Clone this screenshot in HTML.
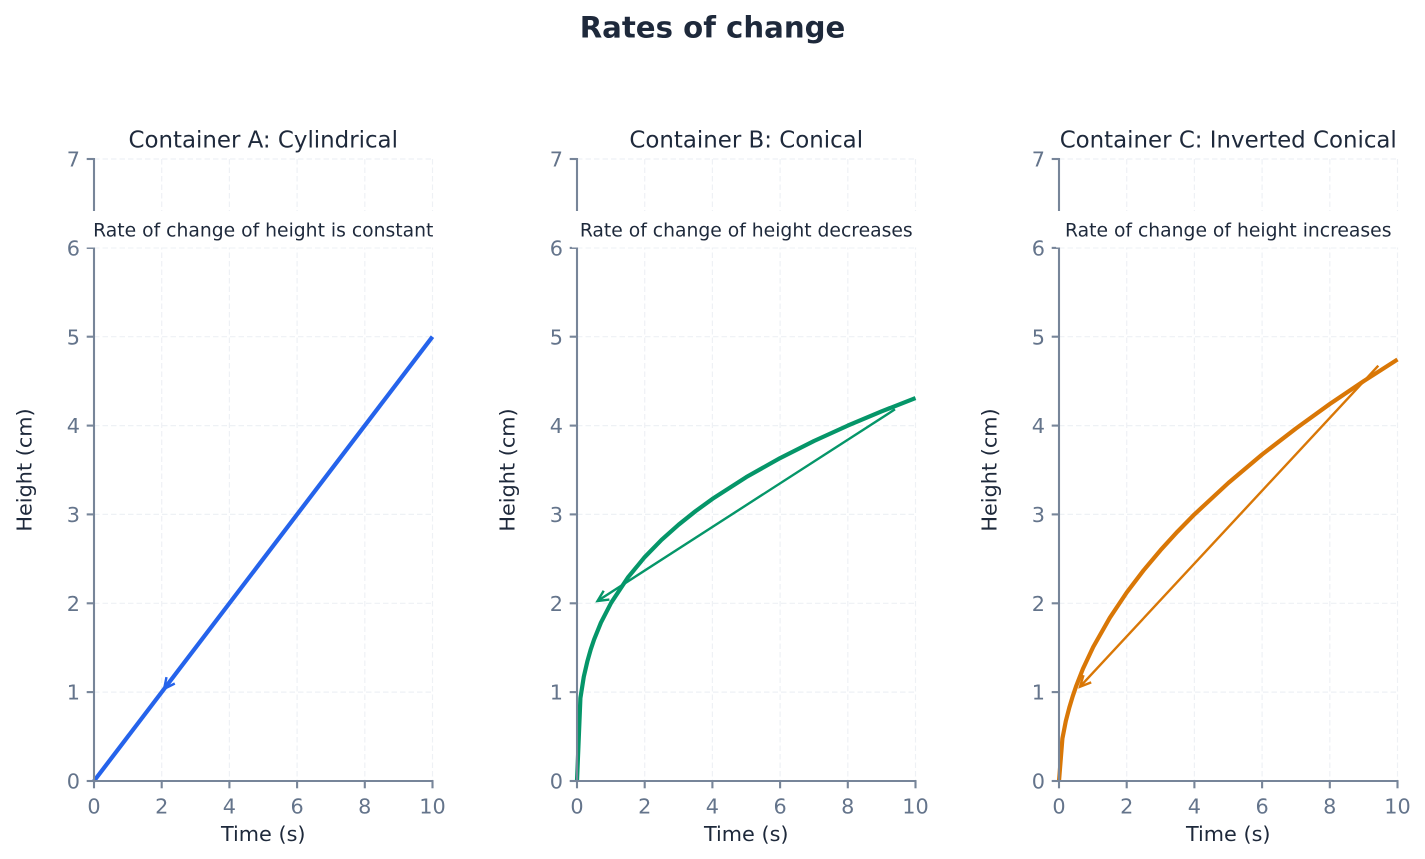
<!DOCTYPE html>
<html>
<head>
<meta charset="utf-8">
<style>
  html, body { margin: 0; padding: 0; background: #ffffff; }
  svg { display: block; }
  text { font-family: "DejaVu Sans", "Liberation Sans", sans-serif; }
  .tick { font-size: 20.8px; fill: #64748b; }
  .lab { font-size: 20.8px; fill: #1e293b; }
  .ttl { font-size: 22.9px; fill: #1e293b; }
  .ann { font-size: 18.75px; fill: #1e293b; }
  .grid line { stroke: #eef1f5; stroke-width: 1.2; stroke-dasharray: 5.5 3; }
  .ax line { stroke: #778599; stroke-width: 2.1; }
</style>
</head>
<body>
<svg width="1425" height="859" viewBox="0 0 1425 859" xmlns="http://www.w3.org/2000/svg">
  <rect x="0" y="0" width="1425" height="859" fill="#ffffff"/>

  <text x="712.5" y="37.5" text-anchor="middle" font-weight="bold" font-size="29.2" fill="#1e293b">Rates of change</text>

  <defs>
    <g id="panel">
      <g class="grid">
        <line x1="94" y1="159" x2="94" y2="781"/>
        <line x1="161.7" y1="159" x2="161.7" y2="781"/>
        <line x1="229.4" y1="159" x2="229.4" y2="781"/>
        <line x1="297.1" y1="159" x2="297.1" y2="781"/>
        <line x1="364.8" y1="159" x2="364.8" y2="781"/>
        <line x1="432.5" y1="159" x2="432.5" y2="781"/>
        <line x1="94" y1="692.1" x2="432.5" y2="692.1"/>
        <line x1="94" y1="603.3" x2="432.5" y2="603.3"/>
        <line x1="94" y1="514.4" x2="432.5" y2="514.4"/>
        <line x1="94" y1="425.6" x2="432.5" y2="425.6"/>
        <line x1="94" y1="336.7" x2="432.5" y2="336.7"/>
        <line x1="94" y1="247.9" x2="432.5" y2="247.9"/>
        <line x1="94" y1="159" x2="432.5" y2="159"/>
      </g>
    </g>
    <g id="axes">
      <g class="ax">
        <line x1="94" y1="158" x2="94" y2="782"/>
        <line x1="93" y1="781" x2="433.5" y2="781"/>
        <line x1="94" y1="781" x2="94" y2="788.3"/>
        <line x1="161.7" y1="781" x2="161.7" y2="788.3"/>
        <line x1="229.4" y1="781" x2="229.4" y2="788.3"/>
        <line x1="297.1" y1="781" x2="297.1" y2="788.3"/>
        <line x1="364.8" y1="781" x2="364.8" y2="788.3"/>
        <line x1="432.5" y1="781" x2="432.5" y2="788.3"/>
        <line x1="86.7" y1="781" x2="94" y2="781"/>
        <line x1="86.7" y1="692.1" x2="94" y2="692.1"/>
        <line x1="86.7" y1="603.3" x2="94" y2="603.3"/>
        <line x1="86.7" y1="514.4" x2="94" y2="514.4"/>
        <line x1="86.7" y1="425.6" x2="94" y2="425.6"/>
        <line x1="86.7" y1="336.7" x2="94" y2="336.7"/>
        <line x1="86.7" y1="247.9" x2="94" y2="247.9"/>
        <line x1="86.7" y1="159" x2="94" y2="159"/>
      </g>
      <g class="tick" text-anchor="middle">
        <text x="94" y="813.3">0</text>
        <text x="161.7" y="813.3">2</text>
        <text x="229.4" y="813.3">4</text>
        <text x="297.1" y="813.3">6</text>
        <text x="364.8" y="813.3">8</text>
        <text x="432.5" y="813.3">10</text>
      </g>
      <g class="tick" text-anchor="end">
        <text x="80" y="788.6">0</text>
        <text x="80" y="699.7">1</text>
        <text x="80" y="610.9">2</text>
        <text x="80" y="522.0">3</text>
        <text x="80" y="433.2">4</text>
        <text x="80" y="344.3">5</text>
        <text x="80" y="255.5">6</text>
        <text x="80" y="166.6">7</text>
      </g>
      <text class="lab" x="263.25" y="841" text-anchor="middle">Time (s)</text>
      <text class="lab" transform="translate(31.7,470) rotate(-90)" text-anchor="middle">Height (cm)</text>
    </g>
  </defs>

  <!-- Panel A -->
  <use href="#panel"/>
  <polyline points="94,781 432.5,336.7" fill="none" stroke="#2563eb" stroke-width="4.2" stroke-linecap="butt"/>
  <use href="#axes"/>
  <g fill="none" stroke="#2563eb" stroke-width="2.4" stroke-linejoin="miter">
    <line x1="415.6" y1="359" x2="164.1" y2="688.9"/>
    <polyline points="174.8,683.5 164.1,688.9 166.5,677.1"/>
  </g>
  <text class="ttl" x="263.25" y="147.3" text-anchor="middle">Container A: Cylindrical</text>
  <rect x="85.3" y="211" width="355.5" height="36.5" fill="#ffffff"/>
  <text class="ann" x="263.25" y="236.5" text-anchor="middle">Rate of change of height is constant</text>

  <!-- Panel B -->
  <g transform="translate(483,0)"><use href="#panel"/></g>
  <polyline fill="none" stroke="#059669" stroke-width="4.2" stroke-linejoin="round"
    points="577,781 580.4,698.2 583.8,676.7 587.3,661.6 590.7,649.6 594.1,639.5 600.9,622.7 611.2,602.7 627.8,577.6 644.7,557.1 661.6,539.8 678.6,524.7 695.5,511.2 712.4,498.9 746.3,477.1 780.1,458.1 814.0,441.0 847.8,425.6 881.7,411.3 915.5,398.1"/>
  <g transform="translate(483,0)"><use href="#axes"/></g>
  <g fill="none" stroke="#059669" stroke-width="2.4" stroke-linejoin="miter">
    <line x1="895" y1="409.3" x2="597.5" y2="601"/>
    <polyline points="609.4,599.6 597.5,601 603.7,590.7"/>
  </g>
  <text class="ttl" x="746.25" y="147.3" text-anchor="middle">Container B: Conical</text>
  <rect x="571.9" y="211" width="348.7" height="36.5" fill="#ffffff"/>
  <text class="ann" x="746.25" y="236.5" text-anchor="middle">Rate of change of height decreases</text>

  <!-- Panel C -->
  <g transform="translate(965,0)"><use href="#panel"/></g>
  <polyline fill="none" stroke="#d97706" stroke-width="4.2" stroke-linejoin="round"
    points="1059,781 1062.4,738.6 1065.8,721.1 1069.3,707.6 1072.7,696.3 1076.1,686.3 1082.9,668.9 1093.2,647.0 1109.8,617.8 1126.7,592.5 1143.6,570.3 1160.6,550.1 1177.5,531.6 1194.4,514.4 1228.3,483.0 1262.1,454.5 1296.0,428.4 1329.8,404.0 1363.7,381.1 1397.5,359.5"/>
  <g transform="translate(965,0)"><use href="#axes"/></g>
  <g fill="none" stroke="#d97706" stroke-width="2.4" stroke-linejoin="miter">
    <line x1="1378.3" y1="365.7" x2="1080" y2="686.7"/>
    <polyline points="1091.2,682.4 1080,686.7 1083.5,675.2"/>
  </g>
  <text class="ttl" x="1228.25" y="147.3" text-anchor="middle">Container C: Inverted Conical</text>
  <rect x="1056.1" y="211" width="344.3" height="36.5" fill="#ffffff"/>
  <text class="ann" x="1228.25" y="236.5" text-anchor="middle">Rate of change of height increases</text>
</svg>
</body>
</html>
